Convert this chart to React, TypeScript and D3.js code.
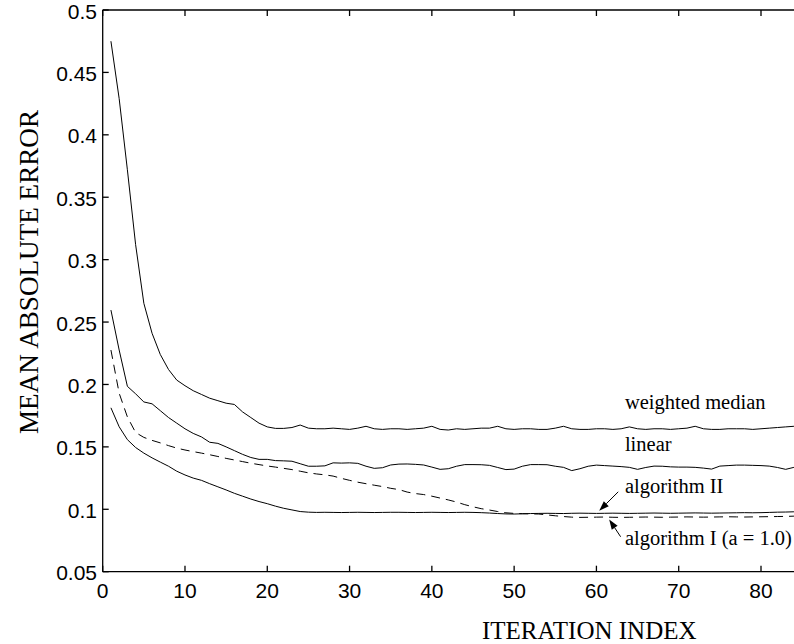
import * as d3 from 'd3'
import React, { useEffect, useRef } from 'react'

// mean absolute error per iteration (iteration index = position + 1)
const weightedMedian = [
  0.475, 0.429, 0.372, 0.312, 0.265, 0.241, 0.224, 0.212, 0.2035, 0.199,
  0.195, 0.192, 0.189, 0.187, 0.185, 0.184, 0.178, 0.1735, 0.169, 0.166,
  0.1648, 0.1648, 0.1655, 0.1675, 0.165, 0.1645, 0.1645, 0.165, 0.1645, 0.164,
  0.165, 0.1665, 0.1645, 0.164, 0.1645, 0.1645, 0.164, 0.1645, 0.165, 0.1665,
  0.164, 0.1635, 0.1645, 0.164, 0.1645, 0.165, 0.165, 0.1665, 0.1645, 0.164,
  0.1645, 0.1645, 0.164, 0.164, 0.165, 0.1665, 0.1645, 0.164, 0.164, 0.1645,
  0.1645, 0.164, 0.1645, 0.166, 0.1645, 0.164, 0.1645, 0.1645, 0.164, 0.1645,
  0.165, 0.1665, 0.1645, 0.164, 0.164, 0.1645, 0.1645, 0.1645, 0.164, 0.1645,
  0.165, 0.1655, 0.166, 0.1665, 0.167,
]

const linear = [
  0.2596, 0.2276, 0.1985, 0.1925, 0.186, 0.1845, 0.179, 0.1735, 0.169, 0.1645,
  0.1608, 0.158, 0.1537, 0.1528, 0.15, 0.147, 0.144, 0.1415, 0.14, 0.14,
  0.139, 0.1388, 0.1385, 0.1365, 0.1345, 0.1345, 0.1348, 0.1372, 0.137, 0.1372,
  0.1368, 0.1345, 0.1328, 0.1333, 0.1355, 0.1362, 0.1363, 0.136, 0.1355, 0.1338,
  0.132, 0.1325, 0.1345, 0.1358, 0.1358, 0.1357, 0.1352, 0.1335, 0.1318, 0.1322,
  0.1345, 0.1358, 0.1358, 0.1357, 0.1345, 0.1336, 0.131, 0.1325, 0.1345, 0.1354,
  0.135, 0.1346, 0.1342, 0.1336, 0.132, 0.1335, 0.1346, 0.1345, 0.134, 0.1338,
  0.1338, 0.1336, 0.133, 0.1322, 0.1346, 0.135, 0.1354, 0.1354, 0.1352, 0.135,
  0.1346, 0.1335, 0.132, 0.1336, 0.1345,
]

const algorithmII = [
  0.1813, 0.1661, 0.1558, 0.1495, 0.145, 0.1412, 0.1378, 0.1345, 0.1305, 0.1275,
  0.125, 0.1232, 0.1205, 0.118, 0.1155, 0.1128, 0.1105, 0.1082, 0.1062, 0.1045,
  0.1025, 0.1008, 0.0995, 0.0982, 0.0977, 0.0975, 0.0976, 0.0975, 0.0974, 0.0975,
  0.0976, 0.0975, 0.0974, 0.0975, 0.0976, 0.0976, 0.0975, 0.0974, 0.0975, 0.0976,
  0.0975, 0.0974, 0.0975, 0.0976, 0.0975, 0.0973, 0.097, 0.0966, 0.0963, 0.0962,
  0.0964, 0.0966, 0.0967, 0.0968, 0.0967, 0.0966, 0.0968, 0.0969, 0.0968, 0.0967,
  0.0968, 0.0969, 0.0968, 0.0967, 0.0968, 0.0969, 0.097, 0.0969, 0.0968, 0.0969,
  0.097, 0.0971, 0.097, 0.0969, 0.097, 0.0971, 0.0972, 0.0973, 0.0972, 0.0973,
  0.0975, 0.0977, 0.0978, 0.098, 0.0981,
]

const algorithmI = [
  0.2276, 0.193, 0.174, 0.1615, 0.1576, 0.1552, 0.1532, 0.151, 0.149, 0.1475,
  0.1462, 0.145, 0.1437, 0.1423, 0.1408, 0.1395, 0.1382, 0.1369, 0.1358, 0.1347,
  0.1338, 0.1328, 0.1318, 0.1305, 0.1292, 0.1283, 0.1276, 0.1266, 0.1248, 0.1232,
  0.1217, 0.1205, 0.1193, 0.1182, 0.1168, 0.1158, 0.1138, 0.1126, 0.1118, 0.1105,
  0.109, 0.1075, 0.1058, 0.1037, 0.102, 0.1005, 0.0994, 0.0982, 0.0972, 0.0967,
  0.0965, 0.0963, 0.0962, 0.0955, 0.0948, 0.0942, 0.0937, 0.0935, 0.0936, 0.0937,
  0.0938, 0.0936, 0.0935, 0.0936, 0.0937, 0.0938, 0.0937, 0.0936, 0.0937, 0.0938,
  0.0939, 0.0938, 0.0937, 0.0938, 0.0939, 0.094, 0.0939, 0.0938, 0.0939, 0.094,
  0.0941, 0.0942, 0.0943, 0.0945, 0.0947,
]

const xTicks = [0, 10, 20, 30, 40, 50, 60, 70, 80]
const yTicks = [0.05, 0.1, 0.15, 0.2, 0.25, 0.3, 0.35, 0.4, 0.45, 0.5]

// text labels placed in data units (iteration, error)
const labels = [
  { text: 'weighted median', x: 63.46, y: 0.1803 },
  { text: 'linear', x: 63.46, y: 0.1469 },
  { text: 'algorithm II', x: 63.46, y: 0.1132 },
  { text: 'algorithm I (a = 1.0)', x: 63.46, y: 0.0713 },
]

const arrows = [
  { from: [62.65, 0.114], to: [60.34, 0.0988] },
  { from: [62.94, 0.078], to: [61.55, 0.0919] },
]

const W = 794
const H = 644

const App = () => {
  const ref = useRef<SVGSVGElement>(null)

  useEffect(() => {
    const svg = d3.select(ref.current)
    svg.selectAll('*').remove()

    const x = d3.scaleLinear().domain([0, 80]).range([102.7, 761])
    const y = d3.scaleLinear().domain([0.05, 0.5]).range([571.7, 10])
    const left = x(0)
    const bottom = y(0.05)
    const top = y(0.5)

    // series
    const line = d3.line<number>()
      .x((_, i) => x(i + 1))
      .y((d) => y(d))

    const series = [
      { values: weightedMedian, dash: null },
      { values: linear, dash: null },
      { values: algorithmII, dash: null },
      { values: algorithmI, dash: '9,6' },
    ]

    series.forEach((s) => {
      svg.append('path')
        .attr('d', line(s.values))
        .attr('fill', 'none')
        .attr('stroke', '#000')
        .attr('stroke-width', 1)
        .attr('stroke-dasharray', s.dash)
    })

    // axes (left, bottom, top border) with inward ticks
    const axis = svg.append('g')
      .attr('stroke', '#000')
      .attr('stroke-width', 1.3)
      .attr('fill', 'none')

    axis.append('line').attr('x1', left).attr('x2', left).attr('y1', top).attr('y2', bottom)
    axis.append('line').attr('x1', left).attr('x2', W).attr('y1', bottom).attr('y2', bottom)
    axis.append('line').attr('x1', left).attr('x2', W).attr('y1', top).attr('y2', top)

    xTicks.forEach((t) => {
      axis.append('line').attr('x1', x(t)).attr('x2', x(t)).attr('y1', bottom).attr('y2', bottom - 6)
      axis.append('line').attr('x1', x(t)).attr('x2', x(t)).attr('y1', top).attr('y2', top + 6)
    })
    yTicks.forEach((t) => {
      axis.append('line').attr('x1', left).attr('x2', left + 6).attr('y1', y(t)).attr('y2', y(t))
    })

    const tickFont = 'Liberation Sans, Arial, sans-serif'

    svg.append('g')
      .selectAll('text')
      .data(xTicks)
      .enter()
      .append('text')
      .attr('x', (d) => x(d))
      .attr('y', 598)
      .attr('text-anchor', 'middle')
      .style('font-family', tickFont)
      .style('font-size', '21px')
      .text((d) => d)

    svg.append('g')
      .selectAll('text')
      .data(yTicks)
      .enter()
      .append('text')
      .attr('x', 97)
      .attr('y', (d) => y(d) + 8.5)
      .attr('text-anchor', 'end')
      .style('font-family', tickFont)
      .style('font-size', '21px')
      .text((d) => String(d))

    // axis titles
    svg.append('text')
      .attr('x', 482)
      .attr('y', 639)
      .style('font-family', 'Liberation Serif, serif')
      .style('font-size', '25px')
      .text('ITERATION INDEX')

    svg.append('text')
      .attr('transform', 'translate(38,272) rotate(-90)')
      .attr('text-anchor', 'middle')
      .attr('textLength', 324)
      .attr('lengthAdjust', 'spacingAndGlyphs')
      .style('font-family', 'Liberation Serif, serif')
      .style('font-size', '28px')
      .text('MEAN ABSOLUTE ERROR')

    // annotations
    svg.append('g')
      .selectAll('text')
      .data(labels)
      .enter()
      .append('text')
      .attr('x', (d) => x(d.x))
      .attr('y', (d) => y(d.y))
      .style('font-family', 'Liberation Serif, serif')
      .style('font-size', '20.5px')
      .text((d) => d.text)

    arrows.forEach((a) => {
      const x1 = x(a.from[0]), y1 = y(a.from[1])
      const x2 = x(a.to[0]), y2 = y(a.to[1])
      const ang = Math.atan2(y2 - y1, x2 - x1)
      const len = 10, half = 3.5
      const bx = x2 - len * Math.cos(ang), by = y2 - len * Math.sin(ang)
      svg.append('line')
        .attr('x1', x1).attr('y1', y1).attr('x2', bx).attr('y2', by)
        .attr('stroke', '#000').attr('stroke-width', 1)
      svg.append('path')
        .attr('d', `M${x2},${y2}L${bx + half * Math.sin(ang)},${by - half * Math.cos(ang)}L${bx - half * Math.sin(ang)},${by + half * Math.cos(ang)}Z`)
        .attr('fill', '#000')
    })
  }, [])

  return (
    <svg
      ref={ref}
      width={W}
      height={H}
      style={{ position: 'absolute', left: 0, top: 0, background: '#fff' }}
    />
  )
}

export default App
